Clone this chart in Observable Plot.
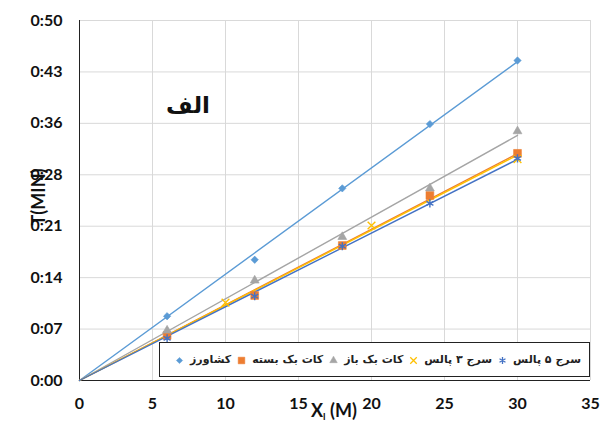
<!DOCTYPE html>
<html><head><meta charset="utf-8">
<script src="https://cdn.jsdelivr.net/npm/d3@7"></script>
<script src="https://cdn.jsdelivr.net/npm/@observablehq/plot@0.6"></script>
<style>
body{margin:0;background:#fff;}
#wrap{position:relative;width:603px;height:421px;overflow:hidden;font-family:Lato,"DejaVu Sans",sans-serif;}
#wrap > svg{position:absolute;left:0;top:0;}
.ov{position:absolute;color:#111;font-weight:bold;white-space:nowrap;line-height:1;}
#legend{position:absolute;left:159px;top:342px;width:431px;height:35px;box-sizing:border-box;border:1px solid #222;background:#fff;display:flex;align-items:center;justify-content:space-between;padding:0 8px 0 14px;direction:ltr;}
.item{display:flex;align-items:center;white-space:nowrap;}
#wrap .item svg{position:static;margin-right:6px;flex:none;}
.item span{font-family:"DejaVu Sans",sans-serif;font-size:11px;font-weight:bold;color:#222;direction:rtl;white-space:nowrap;}
</style></head><body><div id="wrap"></div>
<script>
const xValues = [6, 12, 18, 24, 30];
const keshavarz = [9.0, 16.9, 26.9, 35.9, 44.8];
const cutbackClosed = [6.3, 11.9, 18.9, 25.9, 31.8];
const cutbackOpen = [7.0, 14.0, 20.1, 26.9, 34.9];
const surge3X = [10, 20, 30];
const surge3 = [10.9, 21.7, 31.0];
const surge5 = [5.9, 11.8, 18.8, 24.8, 31.1];
const seriesNames = ["کشاورز", "کات بک بسته", "کات بک باز", "سرج ۳ پالس", "سرج ۵ پالس"];
const seriesColors = ["#5B9BD5", "#ED7D31", "#A5A5A5", "#FFC000", "#4472C4"];
const xTicks = [0, 5, 10, 15, 20, 25, 30, 35];
const yTicks = [0, 7.2, 14.4, 21.6, 28.8, 36, 43.2, 50.4];
const yTickLabels = ["0:00", "0:07", "0:14", "0:21", "0:28", "0:36", "0:43", "0:50"];
const titleText = "الف";
const yLabel = "T(MIN)";

const symbols = ["diamond2", "square", "triangle", "times", "asterisk"];
const radii = [3.3, 4.4, 3.3, 3.6, 3.8];
const seriesX = [xValues, xValues, xValues, surge3X, xValues];
const seriesY = [keshavarz, cutbackClosed, cutbackOpen, surge3, surge5];

const series = seriesNames.map((name, k) => {
  const pts = seriesX[k].map((x, i) => ({x, y: seriesY[k][i]}));
  // linear trendline through origin (least squares)
  const slope = d3.sum(pts, p => p.x * p.y) / d3.sum(pts, p => p.x * p.x);
  const xMax = d3.max(pts, p => p.x);
  const trend = [{x: 0, y: 0}, {x: xMax, y: slope * xMax}];
  return {name, color: seriesColors[k], symbol: symbols[k], r: radii[k], pts, trend};
});

const strokeSym = s => s === "times" || s === "asterisk";

const marks = [
  Plot.gridX(xTicks, {stroke: "#d9d9d9", strokeOpacity: 1, strokeWidth: 1}),
  Plot.gridY(yTicks, {stroke: "#d9d9d9", strokeOpacity: 1, strokeWidth: 1}),
  Plot.axisX(xTicks, {tickSize: 0, tickPadding: 17, label: null, fontSize: 16, fontWeight: "bold", fill: "#111"}),
  Plot.axisY(yTicks, {tickSize: 0, tickPadding: 17, label: null, fontSize: 16, fontWeight: "bold", fill: "#111",
    tickFormat: d => yTickLabels[yTicks.indexOf(d)]}),
  Plot.ruleY([0], {stroke: "#222", strokeWidth: 1}),
  Plot.ruleX([0], {stroke: "#222", strokeWidth: 1})
];
series.forEach(s => {
  marks.push(Plot.line(s.trend, {x: "x", y: "y", stroke: s.color, strokeWidth: 1.4}));
});
series.forEach(s => {
  if (strokeSym(s.symbol)) {
    marks.push(Plot.dot(s.pts, {x: "x", y: "y", symbol: s.symbol, r: s.r, stroke: s.color, strokeWidth: 1.4, fill: "none"}));
  } else {
    marks.push(Plot.dot(s.pts, {x: "x", y: "y", symbol: s.symbol, r: s.r, fill: s.color, stroke: s.color, strokeWidth: 0.6}));
  }
});

const chart = Plot.plot({
  width: 603, height: 421,
  marginLeft: 79, marginRight: 13, marginTop: 20, marginBottom: 41,
  style: {fontFamily: "Lato, sans-serif", background: "white", overflow: "visible"},
  x: {domain: [0, 35]},
  y: {domain: [0, 50.4]},
  marks
});

const wrap = document.getElementById("wrap");
wrap.append(chart);

// title inside plot
const t = document.createElement("div");
t.className = "ov";
t.style.cssText = "left:166px;top:94px;font-family:'DejaVu Sans',sans-serif;font-size:23px;direction:rtl;";
t.textContent = titleText;
wrap.append(t);

// y label
const yl = document.createElement("div");
yl.className = "ov";
yl.style.cssText = "left:38px;top:197px;font-size:18px;transform:translate(-50%,-50%) rotate(-90deg);";
yl.textContent = yLabel;
wrap.append(yl);

// x label
const xl = document.createElement("div");
xl.className = "ov";
xl.style.cssText = "left:311px;top:401px;font-size:18px;";
xl.innerHTML = "X<sub style='font-size:10px;line-height:0;vertical-align:-3px;'>l</sub> (M)";
wrap.append(xl);

// legend
const lg = document.createElement("div");
lg.id = "legend";
series.forEach(s => {
  const it = document.createElement("div");
  it.className = "item";
  const ms = Plot.plot({
    width: 10, height: 10, margin: 0,
    x: {domain: [0, 1], axis: null}, y: {domain: [0, 1], axis: null},
    style: {background: "transparent", overflow: "visible"},
    marks: [strokeSym(s.symbol)
      ? Plot.dot([{x: 0.5, y: 0.5}], {x: "x", y: "y", symbol: s.symbol, r: s.r * 0.85, stroke: s.color, strokeWidth: 1.3, fill: "none"})
      : Plot.dot([{x: 0.5, y: 0.5}], {x: "x", y: "y", symbol: s.symbol, r: s.r * 0.85, fill: s.color, stroke: s.color, strokeWidth: 0.5})]
  });
  it.append(ms);
  const sp = document.createElement("span");
  sp.textContent = s.name;
  it.append(sp);
  lg.append(it);
});
wrap.append(lg);
</script>
</body></html>
